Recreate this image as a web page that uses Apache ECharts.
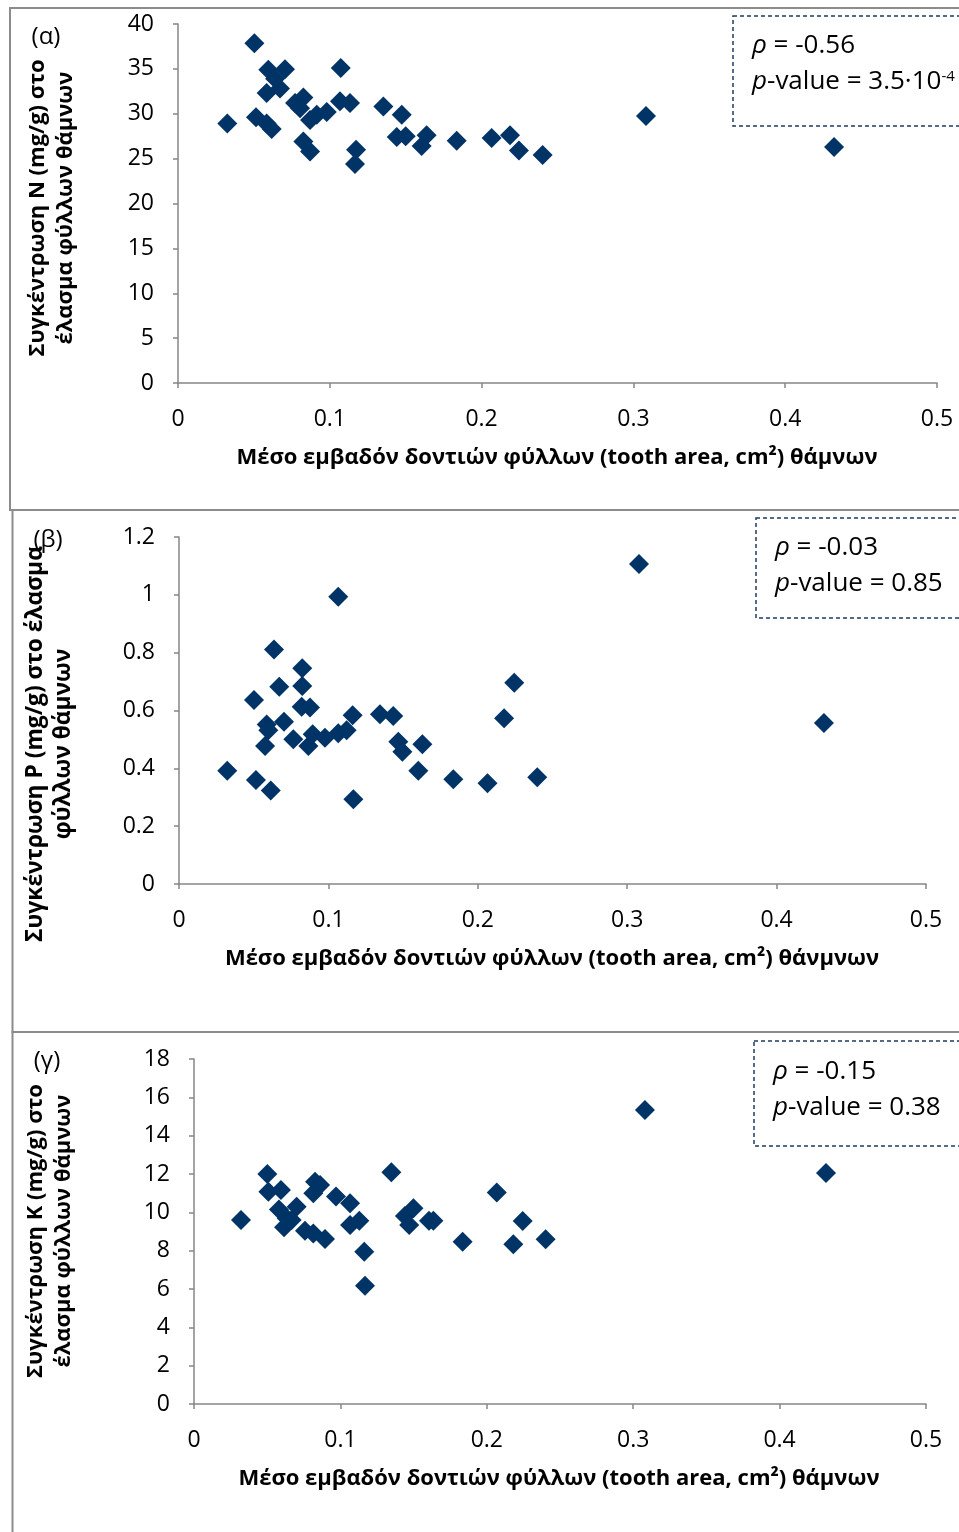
<!DOCTYPE html>
<html>
<head>
<meta charset="utf-8">
<title>Συγκέντρωση N, P, K και εμβαδόν δοντιών φύλλων</title>
<script src="https://cdn.jsdelivr.net/npm/echarts@6/dist/echarts.min.js"></script>
<style>
  html, body { margin: 0; padding: 0; background: #ffffff; }
  #chart { width: 959px; height: 1532px; }
</style>
</head>
<body>
<div id="chart"></div>
<script>
// Mean leaf tooth area (cm²) of shrubs and lamina N concentration (mg/g)
const toothAreaN = [0.0325, 0.0503, 0.0514, 0.0584, 0.0617, 0.0584, 0.0595, 0.0705, 0.0672, 0.0640,
  0.0771, 0.0826, 0.0804, 0.0870, 0.0914, 0.0980, 0.0826, 0.0870, 0.1072, 0.1067,
  0.1133, 0.1173, 0.1166, 0.1353, 0.1474, 0.1441, 0.1500, 0.1638, 0.1605, 0.1836,
  0.2066, 0.2187, 0.2246, 0.2402, 0.3083, 0.4322];
const nitrogen = [28.9, 37.85, 29.6, 28.9, 28.3, 32.3, 34.9, 34.95, 32.8, 33.9,
  31.2, 31.8, 30.6, 29.3, 29.9, 30.2, 26.9, 25.8, 35.1, 31.4,
  31.2, 26.0, 24.4, 30.8, 29.9, 27.4, 27.5, 27.6, 26.4, 27.0,
  27.3, 27.6, 25.9, 25.4, 29.75, 26.3];

// Mean leaf tooth area (cm²) and lamina P concentration (mg/g)
const toothAreaP = [0.0323, 0.0515, 0.0614, 0.0502, 0.0636, 0.0671, 0.0587, 0.0598, 0.0576, 0.0703,
  0.0765, 0.0825, 0.0825, 0.0821, 0.0877, 0.0866, 0.0895, 0.0977, 0.1066, 0.1122,
  0.1162, 0.1066, 0.1167, 0.1345, 0.1434, 0.1468, 0.1495, 0.1629, 0.1602, 0.1836,
  0.2065, 0.2176, 0.2244, 0.2398, 0.3079, 0.4317];
const phosphorus = [0.392, 0.360, 0.323, 0.636, 0.811, 0.682, 0.552, 0.532, 0.477, 0.561,
  0.501, 0.746, 0.685, 0.613, 0.610, 0.477, 0.518, 0.506, 0.521, 0.532,
  0.584, 0.993, 0.293, 0.587, 0.581, 0.492, 0.457, 0.483, 0.392, 0.362,
  0.348, 0.573, 0.696, 0.369, 1.107, 0.557];

// Mean leaf tooth area (cm²) and lamina K concentration (mg/g)
const toothAreaK = [0.0321, 0.0501, 0.0508, 0.0594, 0.0580, 0.0615, 0.0633, 0.0701, 0.0667, 0.0758,
  0.0815, 0.0895, 0.0827, 0.0861, 0.0815, 0.0970, 0.1066, 0.1066, 0.1129, 0.1163,
  0.1168, 0.1348, 0.1441, 0.1499, 0.1470, 0.1605, 0.1635, 0.1835, 0.2068, 0.2181,
  0.2245, 0.2402, 0.3080, 0.4317];
const potassium = [9.6, 12.0, 11.08, 11.16, 10.15, 9.22, 9.69, 10.29, 9.6, 9.04,
  8.9, 8.61, 11.6, 11.42, 10.99, 10.82, 10.47, 9.34, 9.56, 7.95,
  6.17, 12.09, 9.81, 10.21, 9.34, 9.56, 9.56, 8.47, 11.04, 8.33,
  9.55, 8.59, 15.34, 12.05];

const panelTags = ['(α)', '(β)', '(γ)'];
const yTitles = [
  'Συγκέντρωση N (mg/g) στο\nέλασμα φύλλων θάμνων',
  'Συγκέντρωση P (mg/g) στο έλασμα\nφύλλων θάμνων',
  'Συγκέντρωση K (mg/g) στο\nέλασμα φύλλων θάμνων'
];
const xTitles = [
  'Μέσο εμβαδόν δοντιών φύλλων (tooth area, cm²) θάμνων',
  'Μέσο εμβαδόν δοντιών φύλλων (tooth area, cm²) θάνμνων',
  'Μέσο εμβαδόν δοντιών φύλλων (tooth area, cm²) θάμνων'
];
const rhoValues = ['-0.56', '-0.03', '-0.15'];
const pValues = ['3.5·10', '0.85', '0.38'];
const pExponents = ['-4', '', ''];

const yRanges = [
  { min: 0, max: 40, interval: 5 },
  { min: 0, max: 1.2, interval: 0.2 },
  { min: 0, max: 18, interval: 2 }
];

const FONT = '"Open Sans", "DejaVu Sans", sans-serif';
const MARK = '#003366';
const AXIS = '#868686';
const BOX = '#1f3a64';

// plot areas of the three panels
const grids = [
  { left: 178, top: 24, width: 759, height: 359 },
  { left: 179, top: 537, width: 747, height: 347 },
  { left: 194, top: 1059, width: 732, height: 345 }
];
// outer frame of each panel
const frames = [
  { x: 10, y: 8, w: 970, h: 502 },
  { x: 12.5, y: 510, w: 970, h: 522 },
  { x: 12.5, y: 1032, w: 970, h: 520 }
];
const tagPos = [[46, 37], [48, 540], [47, 1061]];
const yTitlePos = [[52, 208], [50, 744], [50, 1231]];
const yTitleSize = [22, 22.8, 22];
const xTitlePos = [[557, 458], [552, 959], [559, 1479]];
const boxes = [
  { x: 733, y: 16, h: 110, tx: 752 , ty: 46 },
  { x: 756, y: 518, h: 100, tx: 775, ty: 548 },
  { x: 754, y: 1041, h: 105, tx: 773, ty: 1072 }
];

const seriesData = [
  toothAreaN.map((x, i) => [x, nitrogen[i]]),
  toothAreaP.map((x, i) => [x, phosphorus[i]]),
  toothAreaK.map((x, i) => [x, potassium[i]])
];

const graphic = [];
frames.forEach(f => {
  graphic.push({ type: 'rect', shape: { x: f.x, y: f.y, width: f.w, height: f.h },
    style: { fill: null, stroke: '#8c8c8c', lineWidth: 2 }, z: 1 });
});
for (let i = 0; i < 3; i++) {
  graphic.push({ type: 'text', x: tagPos[i][0], y: tagPos[i][1], z: 5,
    style: { text: panelTags[i], font: '24px ' + FONT, fill: '#000', align: 'center', verticalAlign: 'middle' } });
  graphic.push({ type: 'text', x: yTitlePos[i][0], y: yTitlePos[i][1], rotation: Math.PI / 2, z: 5,
    style: { text: yTitles[i], font: 'bold ' + yTitleSize[i] + 'px ' + FONT, fill: '#000', align: 'center',
      verticalAlign: 'middle', lineHeight: 28 } });
  graphic.push({ type: 'text', x: xTitlePos[i][0], y: xTitlePos[i][1], z: 5,
    style: { text: xTitles[i], font: 'bold 22px ' + FONT, fill: '#000', align: 'center', verticalAlign: 'middle' } });
  const b = boxes[i];
  graphic.push({ type: 'rect', shape: { x: b.x, y: b.y, width: 300, height: b.h }, z: 4,
    style: { fill: '#fff', stroke: BOX, lineWidth: 1.5, lineDash: [4, 3] } });
  graphic.push({ type: 'text', x: b.tx, y: b.ty, z: 5,
    style: { text: '{i|ρ} = ' + rhoValues[i], font: '26px ' + FONT, fill: '#000',
      verticalAlign: 'middle', rich: { i: { fontStyle: 'italic', fontSize: 26, fontFamily: FONT } } } });
  graphic.push({ type: 'text', x: b.tx, y: b.ty + 36, z: 5,
    style: { text: '{i|p}-value = ' + pValues[i] + (pExponents[i] ? '{s|' + pExponents[i] + '}' : ''),
      font: '26px ' + FONT, fill: '#000', verticalAlign: 'middle', lineHeight: 26,
      rich: { i: { fontStyle: 'italic', fontSize: 26, fontFamily: FONT, lineHeight: 26 },
              s: { fontSize: 15, fontFamily: FONT, lineHeight: 15, verticalAlign: 'top' } } } });
}

const axisCommon = {
  type: 'value',
  axisLine: { show: true, onZero: false, lineStyle: { color: AXIS, width: 1.5 } },
  axisTick: { show: true, inside: false, length: 5, lineStyle: { color: AXIS, width: 1.5 } },
  splitLine: { show: false },
  axisLabel: { color: '#000', fontSize: 23, fontFamily: FONT, margin: 24 }
};

const option = {
  backgroundColor: '#ffffff',
  animation: false,
  grid: grids,
  xAxis: grids.map((g, i) => Object.assign({}, axisCommon, {
    gridIndex: i, min: 0, max: 0.5, interval: 0.1,
    axisLabel: Object.assign({}, axisCommon.axisLabel, { margin: 25 })
  })),
  yAxis: yRanges.map((r, i) => Object.assign({}, axisCommon, {
    gridIndex: i, min: r.min, max: r.max, interval: r.interval
  })),
  series: seriesData.map((d, i) => ({
    type: 'scatter', xAxisIndex: i, yAxisIndex: i, data: d,
    symbol: 'diamond', symbolSize: 20,
    itemStyle: { color: MARK, opacity: 1 }
  })),
  graphic: graphic
};

const chart = echarts.init(document.getElementById('chart'), null, { renderer: 'canvas' });
chart.setOption(option);
</script>
</body>
</html>
